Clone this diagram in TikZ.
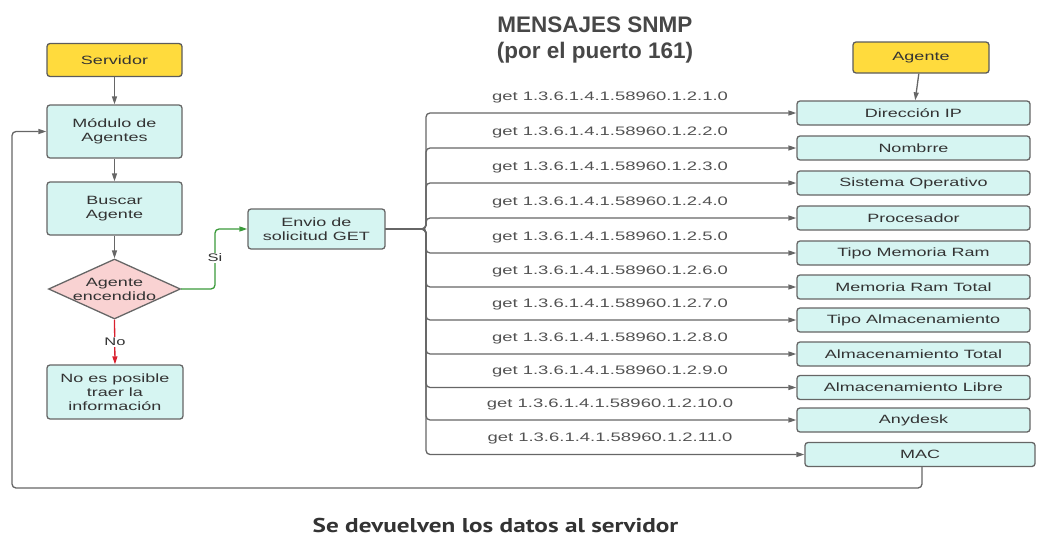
\documentclass[tikz,border=0pt]{standalone}
\usepackage{fontspec}
\setmainfont{Liberation Sans}
\newfontfamily\boxfont{Liberation Sans}[FakeStretch=1.5]
\newfontfamily\footfont{PT Sans}
\usetikzlibrary{shapes.geometric,arrows.meta,calc}
\definecolor{yellowfill}{HTML}{FFDB3D}
\definecolor{cyanfill}{HTML}{D6F5F2}
\definecolor{pinkfill}{HTML}{F9D2D2}
\definecolor{edgegray}{HTML}{666666}
\definecolor{textgray}{HTML}{333333}
\definecolor{okgreen}{HTML}{3A9A3A}
\definecolor{nored}{HTML}{D9202E}
\tikzset{
  x=1pt, y=1pt,
  box/.style={draw=edgegray, line width=1.3pt, rounded corners=3pt, fill=cyanfill,
    align=center, inner sep=0pt, text=textgray,
    font=\boxfont\fontsize{12}{14}\selectfont},
  headbox/.style={box, fill=yellowfill, draw=edgegray!90!black},
  itembox/.style={box, minimum width=233pt, minimum height=24pt},
  decision/.style={diamond, draw=edgegray, line width=1.3pt, fill=pinkfill,
    inner sep=0pt, minimum width=132pt, minimum height=60pt},
  conn/.style={draw=edgegray, line width=1.3pt, rounded corners=4pt,
    -{Triangle[length=8pt,width=5pt]}},
  oid/.style={text=textgray!85, font=\boxfont\fontsize{12.3}{14}\selectfont, inner sep=0pt},
  tag/.style={fill=white, inner sep=1pt, text=textgray, font=\boxfont\fontsize{11}{13}\selectfont},
}
\begin{document}
\begin{tikzpicture}
\useasboundingbox (0,0) rectangle (1037,-538);

% title
\node[font=\bfseries\fontsize{22.5}{26}\selectfont, text=textgray!90, align=center] (title)
  at (595,-40) {MENSAJES SNMP\\(por el puerto 161)};

% server side
\node[headbox, minimum width=135pt, minimum height=33pt] (srv) at (114.5,-60) {Servidor};
\node[box, minimum width=135pt, minimum height=53pt] (mod) at (114.5,-131.5) {Módulo de\\Agentes};
\node[box, minimum width=135pt, minimum height=53pt] (busc) at (114.5,-208.5) {Buscar\\Agente};
\node[decision, label={[text=textgray, align=center, font=\boxfont\fontsize{12}{14}\selectfont]center:Agente\\encendido}] (dec) at (114.5,-289) {};
\node[box, minimum width=136pt, minimum height=54pt] (nopos) at (115,-392) {No es posible\\traer la\\información};
\node[box, minimum width=137pt, minimum height=40pt] (envio) at (316.5,-229) {Envio de\\solicitud GET};

\draw[conn] (srv) -- (mod);
\draw[conn] (mod) -- (busc);
\draw[conn] (busc) -- (dec);
\draw[conn, draw=okgreen, -{Triangle[length=8pt,width=5pt,fill=okgreen]}]
  (dec.east) -| (215,-250) |- (envio.west);
\node[tag] (si) at (215,-258) {Si};
\draw[conn, draw=nored, -{Triangle[length=8pt,width=5pt,fill=nored]}]
  (dec.south) -- (nopos.north);
\node[tag] (no) at (115,-342) {No};

% agent side
\node[headbox, minimum width=136pt, minimum height=31pt] (agt) at (921,-57.5) {Agente};
\node[itembox] (r1) at (913.5,-113) {Dirección IP};
\node[itembox] (r2) at (913.5,-148) {Nombrre};
\node[itembox] (r3) at (913.5,-183) {Sistema Operativo};
\node[itembox] (r4) at (913.5,-218) {Procesador};
\node[itembox] (r5) at (913.5,-253) {Tipo Memoria Ram};
\node[itembox] (r6) at (913.5,-287) {Memoria Ram Total};
\node[itembox] (r7) at (913.5,-320) {Tipo Almacenamiento};
\node[itembox] (r8) at (913.5,-354) {Almacenamiento Total};
\node[itembox] (r9) at (913.5,-387.5) {Almacenamiento Libre};
\node[itembox] (r10) at (913.5,-420) {Anydesk};
\node[itembox, minimum width=230pt] (r11) at (920,-454.5) {MAC};
\draw[conn] (agt) -- (r1);

% GET requests fanning out from the request box
\coordinate (bus) at (426,-229);
\foreach \i in {1,...,11} {
  \draw[conn] (envio.east) -- (bus) |- (r\i.west);
  \node[oid] (oid\i) at ($(610,0) + (0,0 |- r\i.west) + (0,16)$) {get 1.3.6.1.4.1.58960.1.2.\i.0};
}

% answers go back to the server
\draw[conn] (r11.south -| 922,0) -- (922,-488) -- (12,-488) |- (mod.west);

\node[anchor=base, inner sep=0pt, text=textgray] (foot) at (495.5,-532)
  {\scalebox{1.26}[1]{\footfont\bfseries\fontsize{20}{24}\selectfont Se devuelven los datos al servidor}};
\end{tikzpicture}
\end{document}
